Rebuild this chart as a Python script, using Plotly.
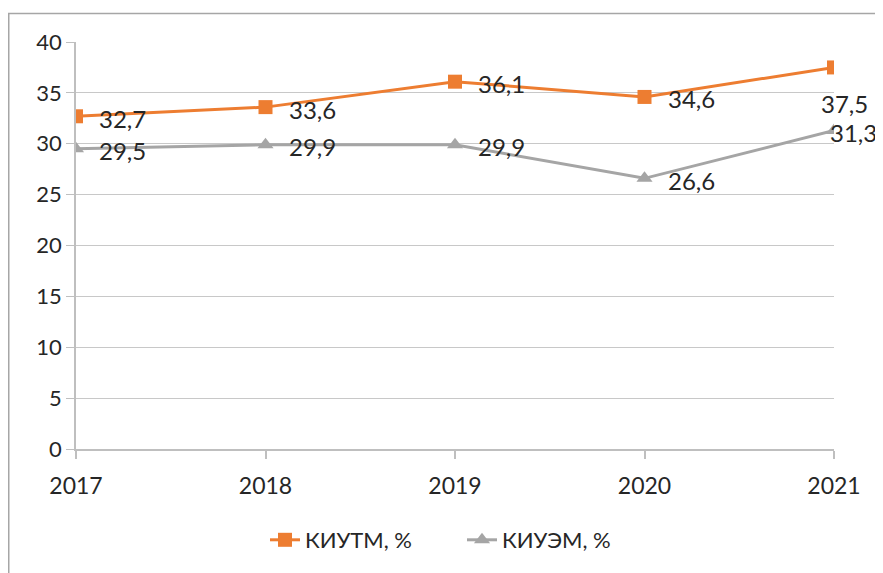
import plotly.graph_objects as go

years = [2017, 2018, 2019, 2020, 2021]
kiutm = [32.7, 33.6, 36.1, 34.6, 37.5]
kiuem = [29.5, 29.9, 29.9, 26.6, 31.3]
kiutm_labels = ["32,7", "33,6", "36,1", "34,6", "37,5"]
kiuem_labels = ["29,5", "29,9", "29,9", "26,6", "31,3"]
y_ticks = [0, 5, 10, 15, 20, 25, 30, 35, 40]

ORANGE = "#ED7D31"
GRAY = "#A5A5A5"
TXT = "#262626"
FONT = "Lato, 'Open Sans', sans-serif"

# page has an 8px body margin, so the figure is sized to fill the rest of the window
W, H = 875, 565
L, R, T, B = 68, 49, 34, 124
PW, PH = W - L - R, H - T - B

fig = go.Figure()
fig.add_trace(go.Scatter(
    x=years, y=kiutm, mode="lines+markers", name="КИУТМ, %",
    line=dict(color=ORANGE, width=3),
    marker=dict(symbol="square", size=14, color=ORANGE),
))
fig.add_trace(go.Scatter(
    x=years, y=kiuem, mode="lines+markers", name="КИУЭМ, %",
    line=dict(color=GRAY, width=3),
    marker=dict(symbol="triangle-up", size=14, color=GRAY),
))

annotations = []
for i, (x, y, t) in enumerate(zip(years, kiutm, kiutm_labels)):
    if i == len(years) - 1:
        annotations.append(dict(x=x, y=y, text=t, showarrow=False, xanchor="center",
                                yanchor="middle", xshift=10, yshift=-36,
                                font=dict(size=24, color=TXT, family=FONT)))
    else:
        annotations.append(dict(x=x, y=y, text=t, showarrow=False, xanchor="left",
                                yanchor="middle", xshift=21, yshift=-2,
                                font=dict(size=24, color=TXT, family=FONT)))
for i, (x, y, t) in enumerate(zip(years, kiuem, kiuem_labels)):
    xs = -6 if i == len(years) - 1 else 21
    annotations.append(dict(x=x, y=y, text=t, showarrow=False, xanchor="left",
                            yanchor="middle", xshift=xs, yshift=-2,
                            font=dict(size=24, color=TXT, family=FONT)))

fig.update_layout(
    width=W, height=H,
    margin=dict(l=L, r=R, t=T, b=B),
    paper_bgcolor="white", plot_bgcolor="white",
    font=dict(family=FONT, color=TXT, size=22),
    showlegend=True,
    legend=dict(orientation="h", x=(462 - 8 - L) / PW, xanchor="center",
                y=(441 - 532) / PH, yanchor="middle",
                font=dict(size=22, color=TXT, family=FONT),
                entrywidth=152, entrywidthmode="pixels",
                traceorder="normal"),
    annotations=annotations,
    xaxis=dict(
        range=[2017, 2021], tickvals=years, ticktext=[str(y) for y in years],
        showgrid=False, showline=True, linecolor="#BFBFBF", linewidth=1.5,
        ticks="outside", ticklen=8, tickcolor="#BFBFBF", tickwidth=1.5,
        tickfont=dict(size=23, color=TXT, family=FONT), ticklabelstandoff=8,
        zeroline=False,
    ),
    yaxis=dict(
        range=[0, 40], tickvals=y_ticks,
        showgrid=True, gridcolor="#C8C8C8", gridwidth=1.2,
        showline=True, linecolor="#BFBFBF", linewidth=1.5,
        ticks="outside", ticklen=8, tickcolor="#BFBFBF", tickwidth=1.2,
        tickfont=dict(size=22, color=TXT, family=FONT),
        zeroline=False,
    ),
    shapes=[dict(type="rect", xref="paper", yref="paper",
                 x0=(0.75 - L) / PW, x1=(W + 10 - L) / PW,
                 y0=(441 - H - 10) / PH, y1=(441 - 5.5) / PH,
                 line=dict(color="#A6A6A6", width=1.5), fillcolor="rgba(0,0,0,0)",
                 layer="below")],
)

fig.write_html("out.html")
